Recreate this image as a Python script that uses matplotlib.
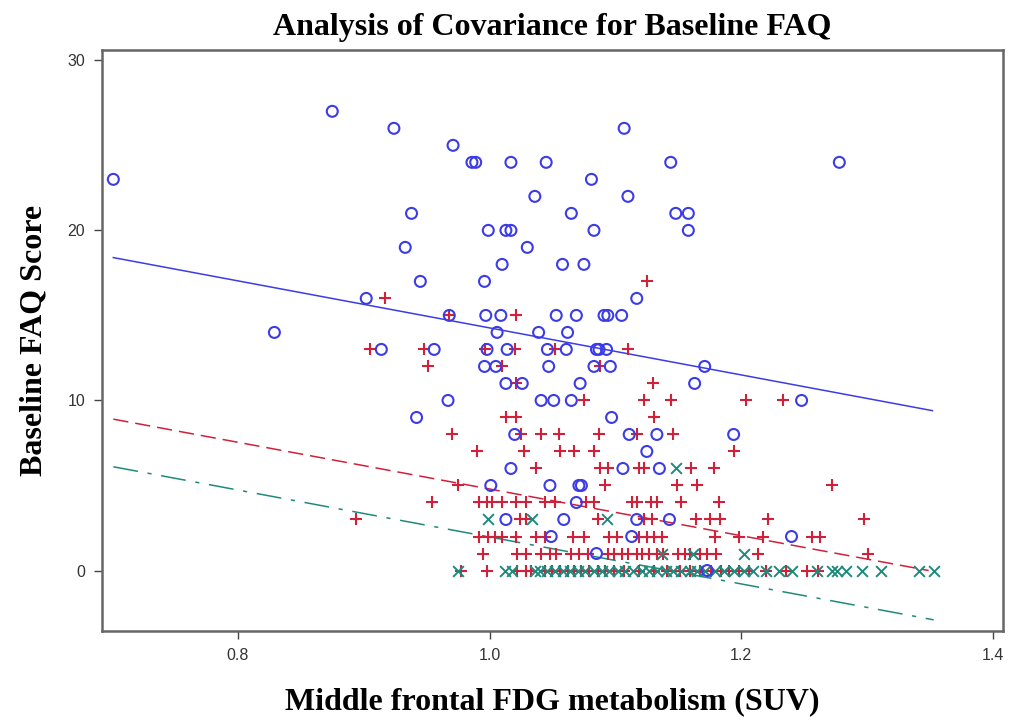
import numpy as np
import matplotlib
matplotlib.use("Agg")
import matplotlib.pyplot as plt

# grupo azul (circulos)
azul_x = [0.701, 0.829, 0.875, 0.924, 0.971, 0.986, 0.989, 1.017, 1.045, 1.081, 1.107, 1.144, 1.278,
          0.938, 1.036, 1.110, 1.065, 1.148, 1.158, 0.999, 1.013, 1.017, 1.083, 1.158,
          0.933, 1.030, 1.010, 1.058, 1.075, 0.945, 0.996, 0.902, 1.117,
          0.968, 0.997, 1.009, 1.053, 1.069, 1.091, 1.094, 1.105,
          1.006, 1.039, 1.062,
          0.914, 0.956, 0.998, 1.014, 1.046, 1.061, 1.085, 1.087, 1.093,
          0.996, 1.005, 1.047, 1.083, 1.096, 1.171,
          1.013, 1.026, 1.072, 1.163,
          0.967, 1.041, 1.051, 1.065, 1.248,
          0.942, 1.097,
          1.020, 1.111, 1.133, 1.194,
          1.125,
          1.017, 1.106, 1.135,
          1.001, 1.048, 1.071, 1.073,
          1.069,
          1.013, 1.059, 1.117, 1.143,
          1.049, 1.113, 1.240,
          1.085,
          1.173]
azul_y = [23, 14, 27, 26, 25, 24, 24, 24, 24, 23, 26, 24, 24,
          21, 22, 22, 21, 21, 21, 20, 20, 20, 20, 20,
          19, 19, 18, 18, 18, 17, 17, 16, 16,
          15, 15, 15, 15, 15, 15, 15, 15,
          14, 14, 14,
          13, 13, 13, 13, 13, 13, 13, 13, 13,
          12, 12, 12, 12, 12, 12,
          11, 11, 11, 11,
          10, 10, 10, 10, 10,
          9, 9,
          8, 8, 8, 8,
          7,
          6, 6, 6,
          5, 5, 5, 5,
          4,
          3, 3, 3, 3,
          2, 2, 2,
          1,
          0]

# grupo rojo (cruces +)
rojo_x = [1.125, 0.917, 0.968, 1.021,
          0.905, 0.948, 0.996, 1.020, 1.052, 1.110,
          0.951, 1.010, 1.088,
          1.021, 1.130,
          1.075, 1.123, 1.144, 1.204, 1.233,
          1.013, 1.021, 1.131,
          0.970, 1.025, 1.041, 1.055, 1.087, 1.117, 1.146,
          0.990, 1.027, 1.056, 1.067, 1.083, 1.194,
          1.037, 1.088, 1.094, 1.119, 1.123, 1.160, 1.178,
          0.975, 1.092, 1.149, 1.165, 1.272,
          0.954, 0.992, 0.998, 1.002, 1.010, 1.021, 1.029, 1.044, 1.052, 1.077, 1.083, 1.113, 1.117,
          1.128, 1.133, 1.152, 1.182,
          0.894, 1.024, 1.029, 1.086, 1.123, 1.129, 1.164, 1.175, 1.183, 1.221, 1.298,
          0.992, 0.999, 1.004, 1.010, 1.021, 1.037, 1.044, 1.066, 1.075, 1.095, 1.101, 1.119, 1.125,
          1.131, 1.137, 1.179, 1.198, 1.217, 1.256, 1.263,
          0.995, 1.022, 1.029, 1.041, 1.048, 1.053, 1.065, 1.071, 1.078, 1.094, 1.099, 1.105, 1.110,
          1.117, 1.121, 1.127, 1.133, 1.138, 1.150, 1.155, 1.159, 1.167, 1.173, 1.180, 1.213, 1.301,
          0.977, 0.998, 1.022, 1.029, 1.033, 1.044, 1.050, 1.056, 1.062, 1.067, 1.073, 1.079, 1.086,
          1.092, 1.099, 1.107, 1.119, 1.131, 1.141, 1.151, 1.159, 1.167, 1.176, 1.184, 1.190, 1.198,
          1.206, 1.220, 1.236, 1.252, 1.261]
rojo_y = [17, 16, 15, 15,
          13, 13, 13, 13, 13, 13,
          12, 12, 12,
          11, 11,
          10, 10, 10, 10, 10,
          9, 9, 9,
          8, 8, 8, 8, 8, 8, 8,
          7, 7, 7, 7, 7, 7,
          6, 6, 6, 6, 6, 6, 6,
          5, 5, 5, 5, 5,
          4, 4, 4, 4, 4, 4, 4, 4, 4, 4, 4, 4, 4,
          4, 4, 4, 4,
          3, 3, 3, 3, 3, 3, 3, 3, 3, 3, 3,
          2, 2, 2, 2, 2, 2, 2, 2, 2, 2, 2, 2, 2,
          2, 2, 2, 2, 2, 2, 2,
          1, 1, 1, 1, 1, 1, 1, 1, 1, 1, 1, 1, 1,
          1, 1, 1, 1, 1, 1, 1, 1, 1, 1, 1, 1, 1,
          0, 0, 0, 0, 0, 0, 0, 0, 0, 0, 0, 0, 0,
          0, 0, 0, 0, 0, 0, 0, 0, 0, 0, 0, 0, 0,
          0, 0, 0, 0, 0]

# grupo verde (x)
verde_x = [1.148, 0.999, 1.034, 1.093, 1.137, 1.162, 1.202,
           0.975, 1.012, 1.018, 1.036, 1.040, 1.046, 1.052, 1.058, 1.064, 1.070, 1.076, 1.083,
           1.089, 1.095, 1.102, 1.108, 1.114, 1.121, 1.127, 1.133, 1.140, 1.146, 1.152, 1.159,
           1.165, 1.171, 1.179, 1.186, 1.194, 1.202, 1.209, 1.220, 1.230, 1.240, 1.260, 1.272,
           1.276, 1.283, 1.296, 1.311, 1.341, 1.353]
verde_y = [6, 3, 3, 3, 1, 1, 1,
           0, 0, 0, 0, 0, 0, 0, 0, 0, 0, 0, 0,
           0, 0, 0, 0, 0, 0, 0, 0, 0, 0, 0, 0,
           0, 0, 0, 0, 0, 0, 0, 0, 0, 0, 0, 0,
           0, 0, 0, 0, 0, 0]

# rectas ajustadas (extremos)
azul_linea_x = [0.701, 1.352]
azul_linea_y = [18.4, 9.4]
rojo_linea_x = [0.701, 1.349]
rojo_linea_y = [8.9, 0.0]
verde_linea_x = [0.701, 1.353]
verde_linea_y = [6.1, -2.9]

xticks = [0.8, 1.0, 1.2, 1.4]
yticks = [0, 10, 20, 30]

c_azul = "#3c3ce6"
c_rojo = "#d0203a"
c_verde = "#1f8a7c"

plt.rcParams["lines.scale_dashes"] = False
fig = plt.figure(figsize=(10.12, 7.26), dpi=100)
ax = fig.add_axes([0.1008, 0.131, 0.8902, 0.80])

ax.scatter(rojo_x, rojo_y, marker="+", s=85, color=c_rojo, linewidths=1.5, zorder=3)
ax.scatter(verde_x, verde_y, marker="x", s=60, color=c_verde, linewidths=1.4, zorder=3)
ax.scatter(azul_x, azul_y, marker="o", s=62, facecolors="none", edgecolors=c_azul, linewidths=1.5, zorder=4)

ax.plot(azul_linea_x, azul_linea_y, color=c_azul, lw=1.1, zorder=2)
ax.plot(rojo_linea_x, rojo_linea_y, color=c_rojo, lw=1.1, linestyle=(0, (11, 5)), zorder=2)
ax.plot(verde_linea_x, verde_linea_y, color=c_verde, lw=1.1, linestyle=(0, (18, 7, 3, 7)), zorder=2)

ax.set_xlim(0.692, 1.408)
ax.set_ylim(-3.55, 30.6)
ax.set_xticks(xticks)
ax.set_xticklabels(["%.1f" % t for t in xticks])
ax.set_yticks(yticks)
ax.tick_params(direction="out", length=6, width=1, colors="#444444", labelsize=11.5, pad=6)
for lab in ax.get_xticklabels() + ax.get_yticklabels():
    lab.set_family(["Liberation Sans Narrow", "Liberation Sans", "DejaVu Sans"])
    lab.set_color("#333333")
for sp in ax.spines.values():
    sp.set_color("#666666")
    sp.set_linewidth(1.8)

serif = ["Liberation Serif", "DejaVu Serif"]
ax.set_title("Analysis of Covariance for Baseline FAQ", family=serif, fontweight="bold",
             fontsize=23, pad=11)
ax.set_xlabel("Middle frontal FDG metabolism (SUV)", family=serif, fontweight="bold",
              fontsize=23, labelpad=18)
ax.set_ylabel("Baseline FAQ Score", family=serif, fontweight="bold", fontsize=23, labelpad=14)

fig.savefig("out.png", dpi=100)
